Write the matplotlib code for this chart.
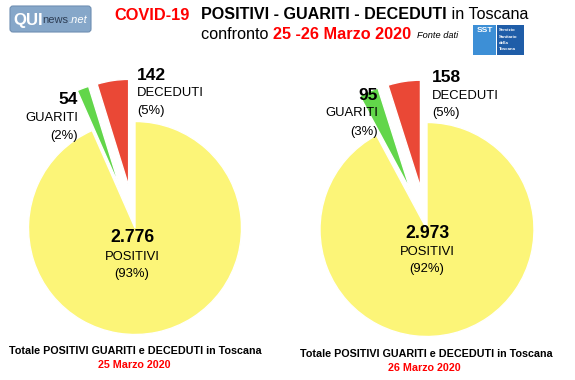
import matplotlib
matplotlib.use("Agg")
import matplotlib.pyplot as plt
from matplotlib.patches import FancyBboxPatch, Rectangle

plt.rcParams['font.family'] = ['Liberation Sans', 'DejaVu Sans']

W, H = 575, 380
# ---- data ----
categories = ["POSITIVI", "GUARITI", "DECEDUTI"]
values_25 = [2776, 54, 142]
values_26 = [2973, 95, 158]
pct_25 = ["93%", "2%", "5%"]
pct_26 = ["92%", "3%", "5%"]
num_25 = ["2.776", "54", "142"]
num_26 = ["2.973", "95", "158"]
dates = ["25 Marzo 2020", "26 Marzo 2020"]
colors = ["#FCF578", "#62D64A", "#EA4836"]

fig = plt.figure(figsize=(W / 100, H / 100), dpi=100)
fig.patch.set_facecolor("white")
renderer = fig.canvas.get_renderer()


def fx(x):
    return x / W


def fy(y):
    return 1 - y / H


def put(x, y, s, **kw):
    return fig.text(fx(x), fy(y), s, **kw)


def line(x0, x1, y, pieces, base=12, zorder=3):
    """pieces: list of (text, kwargs). Fit total width to x1-x0."""
    ts = []
    for s, kw in pieces:
        kw = dict(kw)
        rel = kw.pop("rel", 1.0)
        t = put(x0, y, s, fontsize=base * rel, va="center", ha="left", zorder=zorder, **kw)
        ts.append(t)
    total = sum(t.get_window_extent(renderer).width for t in ts)
    scale = (x1 - x0) / total
    for t in ts:
        t.set_fontsize(t.get_fontsize() * scale)
    x = x0
    for t in ts:
        t.set_x(fx(x))
        x += t.get_window_extent(renderer).width
    return ts


def pie(cx, cy, r, vals, nums, pcts, lab):
    ax = fig.add_axes([fx(cx - r), fy(cy + r), 2 * r / W, 2 * r / H])
    ax.pie(vals, colors=colors, startangle=90, counterclock=False,
           explode=[0, 0.4, 0.4], radius=1,
           wedgeprops=dict(edgecolor="white", linewidth=1.0))
    ax.set_xlim(-1, 1)
    ax.set_ylim(-1, 1)
    ax.set_aspect("equal")
    ax.axis("off")
    for p in ax.patches:
        p.set_clip_on(False)
    (px, py), (gx, gy), (dx, dy) = lab
    put(px, py[0], nums[0], fontsize=12.7, fontweight="bold", ha="center", va="center")
    put(px, py[1], categories[0], fontsize=9.4, ha="center", va="center")
    put(px, py[2], "(" + pcts[0] + ")", fontsize=9.4, ha="center", va="center")
    put(gx, gy[0], nums[1], fontsize=12.5, fontweight="bold", ha="right", va="center")
    put(gx, gy[1], categories[1], fontsize=9.4, ha="right", va="center")
    put(gx, gy[2], "(" + pcts[1] + ")", fontsize=9.4, ha="right", va="center")
    put(dx, dy[0], nums[2], fontsize=12.5, fontweight="bold", ha="left", va="center")
    put(dx, dy[1], categories[2], fontsize=9.4, ha="left", va="center")
    put(dx, dy[2], "(" + pcts[2] + ")", fontsize=9.4, ha="left", va="center")


pie(135, 228, 106.5, values_25, num_25, pct_25,
    ((132, (237.5, 256.5, 274)), (78, (99.5, 118, 136)), (137, (75, 93.5, 111))))
pie(427, 229.5, 107, values_26, num_26, pct_26,
    ((427, (234, 252, 269)), (378, (95, 113, 131.5)), (432, (77.5, 95.7, 113))))

# ---- header ----
line(114, 189, 15, [("COVID-19", dict(color="#FF0000", fontweight="bold"))])
line(201, 527, 14.5, [("POSITIVI - GUARITI - DECEDUTI", dict(fontweight="bold")),
                      (" in Toscana", dict())])
line(201, 411, 34.5, [("confronto ", dict()),
                      ("25 -26 Marzo 2020", dict(color="#FF0000", fontweight="bold"))])
line(417, 458, 35, [("Fonte dati", dict(style="italic"))])

# ---- bottom captions ----
line(9, 259, 351, [("Totale POSITIVI GUARITI e DECEDUTI in Toscana", dict(fontweight="bold"))])
line(98, 171, 365, [(dates[0], dict(color="#FF0000", fontweight="bold"))])
line(300, 550, 354, [("Totale POSITIVI GUARITI e DECEDUTI in Toscana", dict(fontweight="bold"))])
line(388, 461, 368, [(dates[1], dict(color="#FF0000", fontweight="bold"))])

# ---- logos ----
lax = fig.add_axes([0, 0, 1, 1], zorder=-1)
lax.set_xlim(0, W)
lax.set_ylim(H, 0)
lax.axis("off")
lax.add_patch(FancyBboxPatch((10, 6), 81, 26, boxstyle="round,pad=0,rounding_size=3",
                             facecolor="#86A7C9", edgecolor="#6F8FB2", linewidth=0.8))
line(13, 87, 20, [("QUI", dict(color="white", fontweight="bold", rel=1.5)),
                  ("news", dict(color="#2E3E55")),
                  (".net", dict(color="white", style="italic"))], zorder=1)
lax.add_patch(Rectangle((473, 25), 23, 30, facecolor="#3D8FD6", edgecolor="none"))
lax.text(484.5, 31, "SST", fontsize=6, fontweight="bold", color="white", ha="center", va="center")
lax.add_patch(Rectangle((497, 25), 27, 30, facecolor="#1F5DA8", edgecolor="none"))
for i, w in enumerate(["Servizio", "Sanitario", "della", "Toscana"]):
    lax.text(499, 30 + i * 6.5, w, fontsize=3.2, fontweight="bold", color="white", ha="left", va="center")

fig.savefig("out.png", dpi=100, facecolor="white")
